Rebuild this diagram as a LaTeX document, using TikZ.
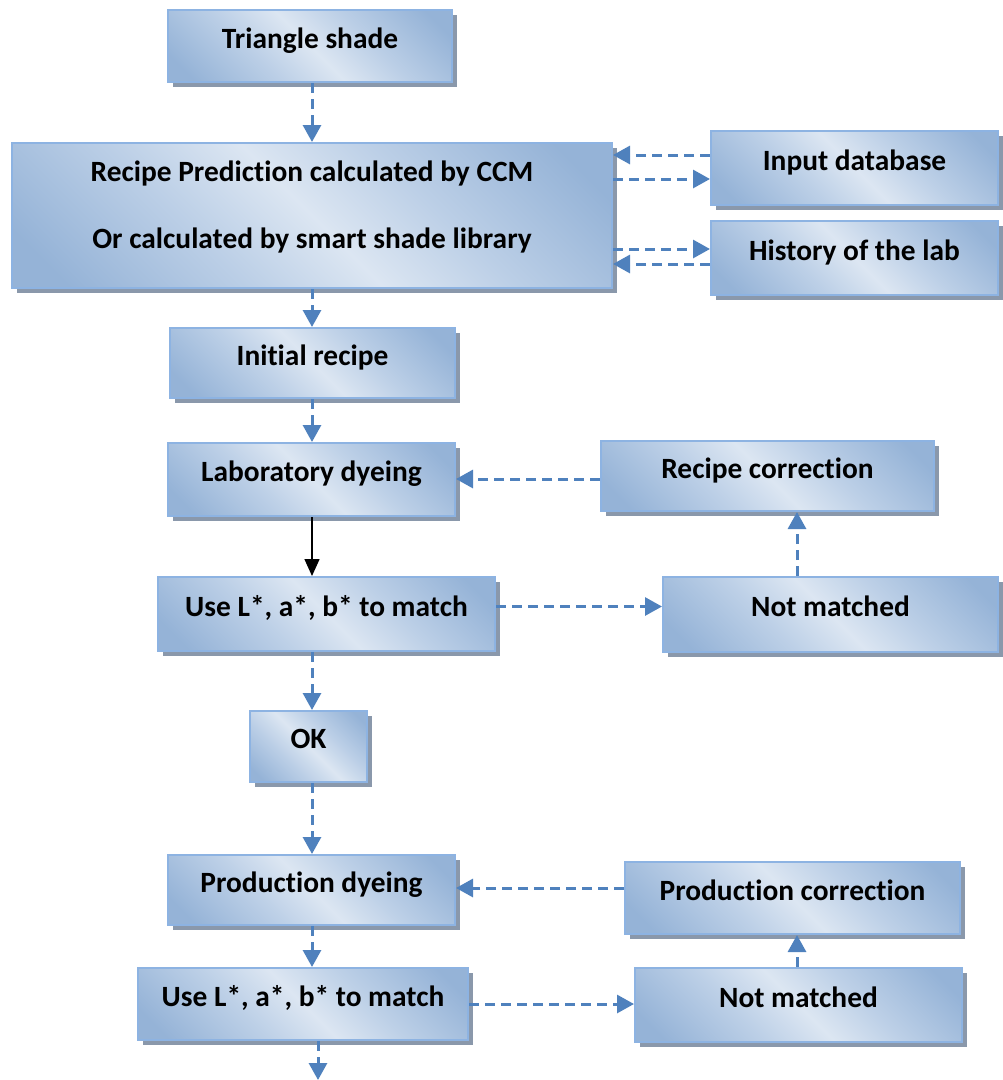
\documentclass[tikz,border=0pt]{standalone}
\usepackage{fontspec}
\setmainfont{Carlito}[Ligatures=NoCommon]
\usetikzlibrary{arrows.meta,shadows}
\definecolor{bdark}{HTML}{95B3D7}
\definecolor{blight}{HTML}{DCE6F2}
\definecolor{bmid}{HTML}{BDD0E7}
\definecolor{bborder}{HTML}{8DB3E2}
\definecolor{shadowc}{HTML}{8A98AB}
\definecolor{conncol}{HTML}{4F81BD}
\pgfdeclareverticalshading{boxshade}{100bp}{color(0bp)=(bdark); color(20bp)=(bdark); color(38bp)=(bmid); color(50bp)=(blight); color(62bp)=(bmid); color(80bp)=(bdark); color(100bp)=(bdark)}
\tikzset{
  flowbox/.style={draw=bborder, line width=2pt, shading=boxshade, shading angle=-45,
    drop shadow={fill=shadowc, opacity=1, shadow xshift=5pt, shadow yshift=-5pt},
    font=\bfseries\fontsize{29.4}{35}\selectfont, text height=22pt, text depth=18pt,
    inner sep=0pt, align=center},
  conn/.style={draw=conncol, line width=3pt, dash pattern=on 10pt off 6pt,
    -{Triangle[width=18pt,length=17pt,fill=conncol]}},
  solidconn/.style={draw=black, line width=1.5pt, -{Triangle[width=15pt,length=17pt]}},
}
\begin{document}
\begin{tikzpicture}[x=1pt,y=-1pt]
\useasboundingbox (0,0) rectangle (1003,1080);
% boxes
\node[flowbox, minimum width=284pt, minimum height=72pt] (tri) at (310,46) {Triangle shade};
\node[flowbox, minimum width=600pt, minimum height=145pt, text height=, text depth=21pt,
  font=\bfseries\fontsize{29.4}{67}\selectfont] (rec) at (312,215.5)
  {Recipe Prediction calculated by CCM\\Or calculated by smart shade library};
\node[flowbox, minimum width=287pt, minimum height=74pt] (inp) at (854.5,168) {Input database};
\node[flowbox, minimum width=287pt, minimum height=74pt] (hist) at (854.5,258) {History of the lab};
\node[flowbox, minimum width=285pt, minimum height=70pt] (init) at (312.5,363) {Initial recipe};
\node[flowbox, minimum width=287pt, minimum height=73pt] (lab) at (311.5,479.5) {Laboratory dyeing};
\node[flowbox, minimum width=333pt, minimum height=70pt] (rcor) at (767.5,476) {Recipe correction};
\node[flowbox, minimum width=337pt, minimum height=74pt] (use1) at (326.5,614) {Use L*, a*, b* to match};
\node[flowbox, minimum width=335pt, minimum height=75pt] (nm1) at (830.5,614.5) {Not matched};
\node[flowbox, minimum width=117pt, minimum height=71pt] (ok) at (308.5,746.5) {OK};
\node[flowbox, minimum width=287pt, minimum height=70pt] (pdye) at (311.5,890) {Production dyeing};
\node[flowbox, minimum width=335pt, minimum height=72pt] (pcor) at (792.5,898) {Production correction};
\node[flowbox, minimum width=330pt, minimum height=72pt] (use2) at (303,1004) {Use L*, a*, b* to match};
\node[flowbox, minimum width=327pt, minimum height=74pt] (nm2) at (798.5,1005) {Not matched};
% guide coordinates
\coordinate (spine) at (312,0);
\coordinate (spineb) at (318,0);
\coordinate (rspine) at (797,0);
\coordinate (ya) at (0,155);
\coordinate (yb) at (0,179);
\coordinate (yc) at (0,249);
\coordinate (yd) at (0,264);
\coordinate (ye) at (0,479);
\coordinate (yf) at (0,606.5);
\coordinate (yg) at (0,888);
\coordinate (yh) at (0,1004);
\coordinate (bottomend) at (318,1080);
% connectors
\draw[conn] (tri.south -| spine) -- (rec.north -| spine);
\draw[conn] (inp.west |- ya) -- (rec.east |- ya);
\draw[conn] (rec.east |- yb) -- (inp.west |- yb);
\draw[conn] (rec.east |- yc) -- (hist.west |- yc);
\draw[conn] (hist.west |- yd) -- (rec.east |- yd);
\draw[conn] (rec.south -| spine) -- (init.north -| spine);
\draw[conn] (init.south -| spine) -- (lab.north -| spine);
\draw[solidconn] (lab.south -| spine) -- (use1.north -| spine);
\draw[conn] (use1.east |- yf) -- (nm1.west |- yf);
\draw[conn] (nm1.north -| rspine) -- (rcor.south -| rspine);
\draw[conn] (rcor.west |- ye) -- (lab.east |- ye);
\draw[conn] (use1.south -| spine) -- (ok.north -| spine);
\draw[conn] (ok.south -| spine) -- (pdye.north -| spine);
\draw[conn] (pcor.west |- yg) -- (pdye.east |- yg);
\draw[conn] (pdye.south -| spine) -- (use2.north -| spine);
\draw[conn] (use2.east |- yh) -- (nm2.west |- yh);
\draw[conn] (nm2.north -| rspine) -- (pcor.south -| rspine);
\draw[conn] (use2.south -| spineb) -- (bottomend);
\end{tikzpicture}
\end{document}
